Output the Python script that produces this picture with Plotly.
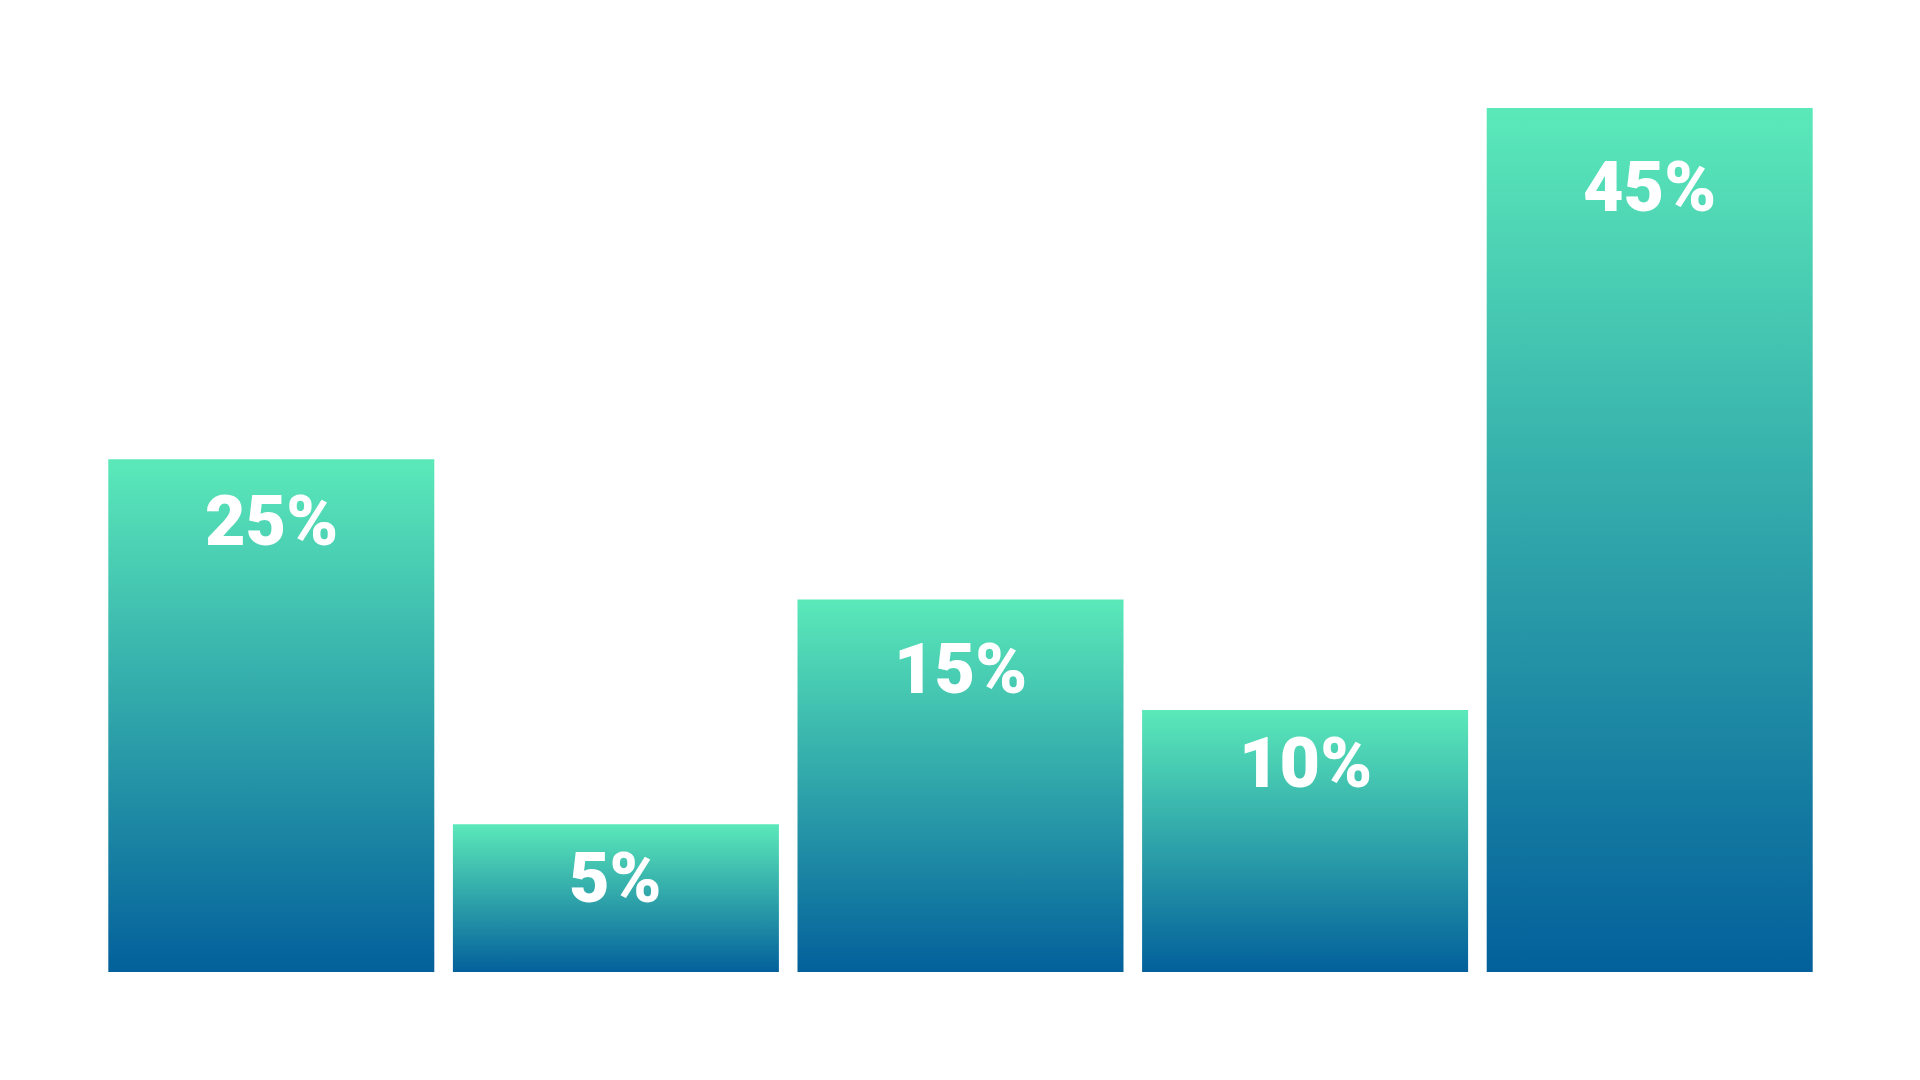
import plotly.graph_objects as go

categories = ["A", "B", "C", "D", "E"]
bar_values = [26.7, 7.7, 19.4, 13.65, 45.0]
labels = ["25%", "5%", "15%", "10%", "45%"]
label_levels = [23.5, 4.9, 15.8, 10.9, 40.9]

TOP_COLOR = "#5BE9B9"
BOTTOM_COLOR = "#03609B"
HALF_W = 0.473

fig = go.Figure()
for i, (cat, v) in enumerate(zip(categories, bar_values)):
    xs = [i - HALF_W, i + HALF_W, i + HALF_W, i - HALF_W, i - HALF_W]
    ys = [0, 0, v, v, 0]
    fig.add_trace(go.Scatter(
        x=xs, y=ys, mode="lines", fill="toself",
        line=dict(width=0, color="rgba(0,0,0,0)"),
        fillgradient=dict(type="vertical",
                          colorscale=[[0, BOTTOM_COLOR], [1, TOP_COLOR]],
                          start=0, stop=v),
        hoverinfo="skip", showlegend=False, name=cat,
    ))

for i, (lab, ly) in enumerate(zip(labels, label_levels)):
    fig.add_annotation(x=i, y=ly, text=lab, showarrow=False,
                       xanchor="center", yanchor="middle",
                       font=dict(family="Roboto", size=70, color="white", weight=900))

fig.update_layout(
    width=1920, height=1080,
    margin=dict(l=91, r=106, t=4, b=116),
    paper_bgcolor="white", plot_bgcolor="white",
    xaxis=dict(range=[-0.5, 4.5], visible=False, fixedrange=True),
    yaxis=dict(range=[0, 50], visible=False, fixedrange=True),
    showlegend=False,
)
fig.write_html("out.html", config={"displayModeBar": False})
